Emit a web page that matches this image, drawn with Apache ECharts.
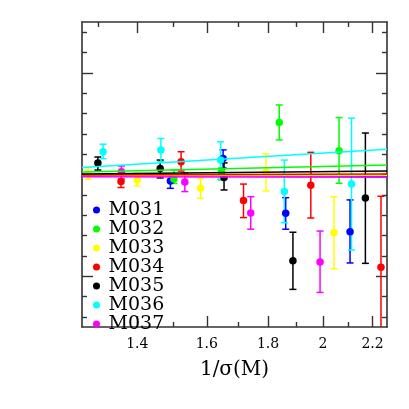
<!DOCTYPE html>
<html>
<head>
<meta charset="utf-8">
<script src="https://cdn.jsdelivr.net/npm/echarts@6/dist/echarts.min.js"></script>
<style>html,body{margin:0;padding:0;background:#fff;}#c{width:409px;height:409px;}</style>
</head>
<body>
<div id="c"></div>
<script>
// ---- axis ranges and ticks ----
const X_MIN = 1.259, X_MAX = 2.262;
const Y_MIN = 0.75, Y_MAX = 2.25;
const xMajorTicks = [1.4, 1.6, 1.8, 2.0, 2.2];
const xMinorTicks = [1.3, 1.5, 1.7, 1.9, 2.1];
const yMajorTicks = [1, 2];
const yMinorTicks = [0.8, 0.9, 1.1, 1.2, 1.3, 1.4, 1.5, 1.6, 1.7, 1.8, 1.9, 2.1, 2.2];

// ---- series names ----
const names = ['M031', 'M032', 'M033', 'M034', 'M035', 'M036', 'M037'];

// ---- data (x = 1/sigma(M), y, upper, lower) ----
const M031_x  = [1.492, 1.651, 1.862, 2.107];
const M031_y  = [1.468, 1.579, 1.309, 1.219];
const M031_hi = [1.495, 1.621, 1.386, 1.375];
const M031_lo = [1.432, 1.532, 1.231, 1.065];

const M032_x  = [1.502, 1.646, 1.839, 2.063];
const M032_y  = [1.478, 1.512, 1.756, 1.617];
const M032_hi = [1.522, 1.532, 1.842, 1.780];
const M032_lo = [1.456, 1.473, 1.670, 1.457];

const M033_x  = [1.274, 1.400, 1.581, 1.793, 2.043];
const M033_y  = [1.503, 1.473, 1.432, 1.510, 1.214];
const M033_hi = [1.535, 1.508, 1.481, 1.601, 1.391];
const M033_lo = [1.476, 1.444, 1.383, 1.419, 1.037];

const M034_x  = [1.357, 1.523, 1.717, 1.954, 2.236];
const M034_y  = [1.466, 1.563, 1.372, 1.447, 1.044];
const M034_hi = [1.495, 1.612, 1.453, 1.609, 1.393];
const M034_lo = [1.436, 1.517, 1.288, 1.286, 0.600];

const M035_x  = [1.298, 1.463, 1.654, 1.888, 2.170];
const M035_y  = [1.557, 1.529, 1.485, 1.076, 1.385];
const M035_hi = [1.586, 1.571, 1.557, 1.216, 1.704];
const M035_lo = [1.522, 1.483, 1.424, 0.935, 1.063];

const M036_x  = [1.311, 1.465, 1.643, 1.857, 2.113];
const M036_y  = [1.612, 1.621, 1.571, 1.417, 1.453];
const M036_hi = [1.649, 1.677, 1.661, 1.571, 1.777];
const M036_lo = [1.578, 1.563, 1.478, 1.263, 1.129];

const M037_x  = [1.358, 1.534, 1.741, 1.989];
const M037_y  = [1.514, 1.463, 1.311, 1.070];
const M037_hi = [1.542, 1.508, 1.391, 1.222];
const M037_lo = [1.478, 1.416, 1.231, 0.920];

// fit lines: value at X_MIN and at X_MAX
const fitStart = [1.495, 1.512, 1.495, 1.498, 1.503, 1.534, 1.489];
const fitEnd   = [1.493, 1.547, 1.496, 1.503, 1.517, 1.624, 1.486];

// ---- styles ----
const colors = ['#0000ff', '#00ff00', '#ffff00', '#ff0000', '#000000', '#00ffff', '#ff00ff'];
const FONT = 'DejaVu Serif';
const AX = '#333';

const allData = [
  [M031_x, M031_y, M031_hi, M031_lo],
  [M032_x, M032_y, M032_hi, M032_lo],
  [M033_x, M033_y, M033_hi, M033_lo],
  [M034_x, M034_y, M034_hi, M034_lo],
  [M035_x, M035_y, M035_hi, M035_lo],
  [M036_x, M036_y, M036_hi, M036_lo],
  [M037_x, M037_y, M037_hi, M037_lo]
];

const lx = v => Math.log10(v);
const LX_MIN = lx(X_MIN), LX_MAX = lx(X_MAX);

function tickAxisX(pos, values, len, showLine, showLabel) {
  return {
    type: 'value', position: pos, min: LX_MIN, max: LX_MAX,
    axisLine: { show: showLine, lineStyle: { color: AX, width: 1.6 } },
    axisTick: { show: true, inside: true, length: len, customValues: values.map(lx), lineStyle: { color: AX, width: 1.4 } },
    axisLabel: showLabel ? {
      show: true, customValues: values.map(lx), margin: 10,
      formatter: v => String(Math.round(Math.pow(10, v) * 10) / 10),
      fontFamily: FONT, fontSize: 14, color: '#000'
    } : { show: false },
    splitLine: { show: false }
  };
}
function tickAxisY(pos, values, len, showLine) {
  return {
    type: 'value', position: pos, min: Y_MIN, max: Y_MAX,
    axisLine: { show: showLine, lineStyle: { color: AX, width: 1.6 } },
    axisTick: { show: true, inside: true, length: len, customValues: values, lineStyle: { color: AX, width: 1.4 } },
    axisLabel: { show: false },
    splitLine: { show: false }
  };
}

const xAxes = [
  { type: 'log', logBase: 10, min: X_MIN, max: X_MAX, show: false },
  Object.assign(tickAxisX('bottom', xMajorTicks, 11, true, true), {
    name: '1/σ(M)', nameLocation: 'middle', nameGap: 33,
    nameTextStyle: { fontFamily: FONT, fontSize: 20, color: '#000' }
  }),
  tickAxisX('bottom', xMinorTicks, 5, false, false),
  tickAxisX('top', xMajorTicks, 11, true, false),
  tickAxisX('top', xMinorTicks, 5, false, false)
];
const yAxes = [
  tickAxisY('left', yMajorTicks, 11, true),
  tickAxisY('left', yMinorTicks, 5, false),
  tickAxisY('right', yMajorTicks, 11, true),
  tickAxisY('right', yMinorTicks, 5, false)
];

const series = [];
allData.forEach((d, k) => {
  const color = colors[k];
  const errData = d[0].map((x, i) => [x, d[1][i], d[3][i], d[2][i]]);
  series.push({
    type: 'custom', name: names[k] + ' err', xAxisIndex: 0, yAxisIndex: 0,
    clip: true, silent: true, z: 2,
    encode: { x: 0, y: [1, 2, 3] },
    data: errData,
    renderItem: function (params, api) {
      const x = api.value(0);
      const pLo = api.coord([x, api.value(2)]);
      const pHi = api.coord([x, api.value(3)]);
      const w = 3.5;
      const st = { stroke: color, lineWidth: 1.5 };
      return {
        type: 'group', children: [
          { type: 'line', shape: { x1: pLo[0], y1: pLo[1], x2: pHi[0], y2: pHi[1] }, style: st },
          { type: 'line', shape: { x1: pLo[0] - w, y1: pLo[1], x2: pLo[0] + w, y2: pLo[1] }, style: st },
          { type: 'line', shape: { x1: pHi[0] - w, y1: pHi[1], x2: pHi[0] + w, y2: pHi[1] }, style: st }
        ]
      };
    }
  });
  series.push({
    type: 'scatter', name: names[k], xAxisIndex: 0, yAxisIndex: 0, z: 3,
    symbol: 'circle', symbolSize: 7.5,
    itemStyle: { color: color, opacity: 1 },
    data: d[0].map((x, i) => [x, d[1][i]])
  });
});
allData.forEach((d, k) => {
  series.push({
    type: 'line', name: names[k] + ' fit', xAxisIndex: 0, yAxisIndex: 0, z: 4,
    showSymbol: false, symbol: 'none', silent: true,
    lineStyle: { color: colors[k], width: 1.5 },
    data: [[X_MIN, fitStart[k]], [X_MAX, fitEnd[k]]]
  });
});

const chart = echarts.init(document.getElementById('c'), null, { renderer: 'canvas' });
chart.setOption({
  animation: false,
  backgroundColor: '#fff',
  grid: { left: 82, right: 22, top: 22, bottom: 82, containLabel: false, outerBoundsMode: 'none' },
  xAxis: xAxes,
  yAxis: yAxes,
  legend: {
    orient: 'vertical', left: 93, top: 200.4, padding: 0, itemGap: 0,
    itemWidth: 14, itemHeight: 7, selectedMode: false,
    data: names.map(n => ({ name: n, icon: 'circle', itemStyle: { opacity: 1 } })),
    textStyle: { fontFamily: FONT, fontSize: 19, lineHeight: 17.8, color: '#000' }
  },
  series: series
});
</script>
</body>
</html>
